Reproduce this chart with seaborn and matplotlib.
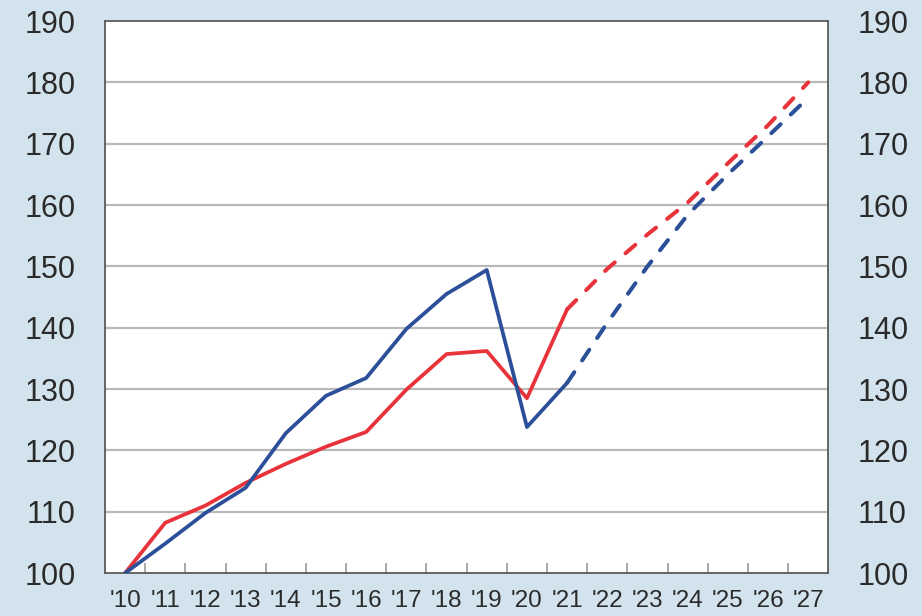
import matplotlib
matplotlib.use("Agg")
import matplotlib.pyplot as plt
from matplotlib.ticker import FixedLocator
import seaborn as sns
import pandas as pd

# Year labels along the x axis
years = ["'10", "'11", "'12", "'13", "'14", "'15", "'16", "'17", "'18",
         "'19", "'20", "'21", "'22", "'23", "'24", "'25", "'26", "'27"]

# Index values (2010 = 100): actual part '10-'21, projection '21-'27
red_actual = [100, 108.2, 111.0, 114.7, 117.8, 120.6, 123.0, 129.9, 135.7, 136.2, 128.5, 143.0]
red_proj = [143.0, 149.6, 155.2, 160.4, 166.8, 173.0, 180.0]
blue_actual = [100, 104.8, 109.8, 113.9, 122.8, 128.9, 131.8, 139.8, 145.5, 149.4, 123.8, 131.0]
blue_proj = [131.0, 140.8, 150.0, 158.4, 165.0, 171.2, 177.5]

y_ticks = [100, 110, 120, 130, 140, 150, 160, 170, 180, 190]

RED = "#e8333a"
BLUE = "#2b4f98"
BG = "#d3e3ee"

sns.set_theme(style="white")
plt.rcParams["font.family"] = ["Liberation Sans", "DejaVu Sans"]

fig = plt.figure(figsize=(9.22, 6.16), dpi=100, facecolor=BG)
ax = fig.add_axes([0.1139, 0.0698, 0.7845, 0.8961])
ax.set_facecolor("white")

n_act = len(red_actual)
x_act = list(range(n_act))
x_proj = list(range(n_act - 1, len(years)))

df_act = pd.DataFrame({"x": x_act * 2,
                       "v": red_actual + blue_actual,
                       "s": ["red"] * n_act + ["blue"] * n_act})
df_proj = pd.DataFrame({"x": x_proj * 2,
                        "v": red_proj + blue_proj,
                        "s": ["red"] * len(x_proj) + ["blue"] * len(x_proj)})
palette = {"red": RED, "blue": BLUE}

for y in y_ticks[1:-1]:
    ax.axhline(y, color="#b9b9b9", lw=1.6, zorder=1)

sns.lineplot(data=df_proj, x="x", y="v", hue="s", palette=palette,
             linewidth=2.9, legend=False, ax=ax, zorder=3)
for line in ax.get_lines()[-2:]:
    line.set_dashes((3.2, 3.5))
    line.set_dash_capstyle("round")
sns.lineplot(data=df_act, x="x", y="v", hue="s", palette=palette,
             linewidth=2.7, legend=False, ax=ax, zorder=4)

ax.set_xlim(-0.5, len(years) - 0.5)
ax.set_ylim(100, 190)
ax.set_xlabel("")
ax.set_ylabel("")

ax.set_xticks(range(len(years)))
ax.set_xticklabels(years)
ax.xaxis.set_minor_locator(FixedLocator([i + 0.5 for i in range(len(years) - 1)]))
ax.tick_params(axis="x", which="major", length=0, pad=12, labelsize=17.5,
               labelcolor="#2a2a2a")
ax.tick_params(axis="x", which="minor", direction="in", length=7, width=1.2,
               color="#9a9a9a", bottom=True)

ax.set_yticks(y_ticks)
ax.tick_params(axis="y", which="major", length=0, pad=21, labelsize=22,
               labelcolor="#2a2a2a", labelleft=True, labelright=True)

for sp in ax.spines.values():
    sp.set_visible(True)
    sp.set_color("#5a5a5a")
    sp.set_linewidth(1.3)

fig.savefig("out.png", dpi=100, facecolor=BG)
